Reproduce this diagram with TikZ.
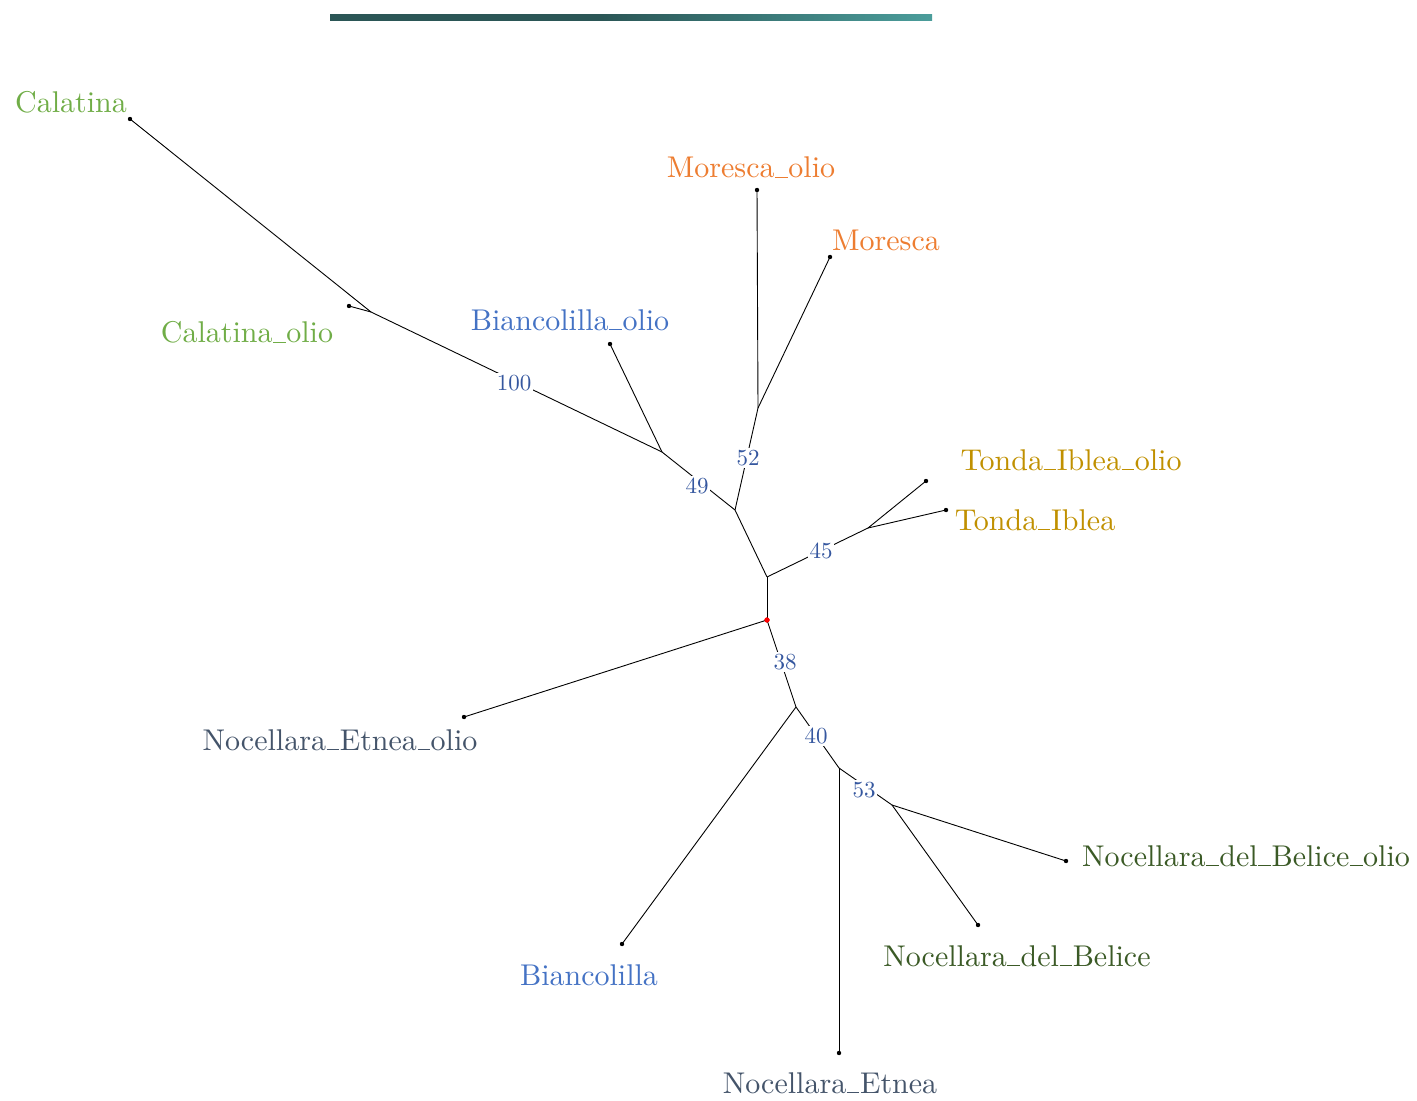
\documentclass[tikz,border=0pt]{standalone}
\usepackage{fontspec}
\setmainfont{lmroman10-regular.otf}
\newcommand\us{\leavevmode\kern.02em\vbox{\hrule height.5pt width.42em}\kern.02em}
\definecolor{cgreen}{HTML}{70AD47}
\definecolor{corange}{HTML}{ED7D31}
\definecolor{cblue}{HTML}{4472C4}
\definecolor{cgold}{HTML}{C09000}
\definecolor{cslate}{HTML}{44546A}
\definecolor{cdkgreen}{HTML}{3B5A26}
\definecolor{cboot}{HTML}{35579F}
\definecolor{bardark}{HTML}{2B5656}
\definecolor{barlight}{HTML}{4B9D9B}
\pgfdeclarehorizontalshading{barshade}{100bp}{color(0bp)=(bardark); color(25bp)=(bardark); color(47.5bp)=(bardark); color(75bp)=(barlight); color(100bp)=(barlight)}
\tikzset{
  leafdot/.style={circle,fill=black,inner sep=0pt,minimum size=2.2pt},
  inode/.style={inner sep=0pt,minimum size=0pt},
  rootdot/.style={circle,fill=red,inner sep=0pt,minimum size=2.6pt},
  edge/.style={draw=black,line width=0.45pt},
  leaflab/.style={anchor=base,inner sep=0pt,font=\fontsize{15}{18}\selectfont},
  boot/.style={fill=white,inner sep=0.8pt,text=cboot,font=\fontsize{11.5}{13}\selectfont},
}
\begin{document}
\begin{tikzpicture}[x=0.5pt,y=-0.5pt]
\useasboundingbox (0,0) rectangle (1417,1101);
% top bar
\shade[shading=barshade] (330,15) rectangle (932,21);

% internal nodes
\node[rootdot] (R) at (767,620) {};
\node[inode] (A) at (767,577) {};
\node[inode] (B) at (735,510) {};
\node[inode] (C) at (662,452) {};
\node[inode] (E) at (371,312) {};
\node[inode] (D) at (758,408) {};
\node[inode] (T) at (868,528) {};
\node[inode] (F) at (796,707) {};
\node[inode] (G) at (839,768) {};
\node[inode] (H) at (892,805) {};

% leaves
\node[leafdot] (l1) at (130,119) {};
\node[leafdot] (l2) at (349,306) {};
\node[leafdot] (l3) at (610,344) {};
\node[leafdot] (l4) at (757,190) {};
\node[leafdot] (l5) at (830,257) {};
\node[leafdot] (l6) at (926,481) {};
\node[leafdot] (l7) at (946,510) {};
\node[leafdot] (l8) at (464,717) {};
\node[leafdot] (l9) at (622,944) {};
\node[leafdot] (l10) at (839,1053) {};
\node[leafdot] (l11) at (978,925) {};
\node[leafdot] (l12) at (1066,861) {};

% edges
\draw[edge] (R.center) -- (A.center);
\draw[edge] (A.center) -- (B.center);
\draw[edge] (A.center) -- (T.center);
\draw[edge] (B.center) -- (C.center);
\draw[edge] (B.center) -- (D.center);
\draw[edge] (C.center) -- (E.center);
\draw[edge] (C.center) -- (l3.center);
\draw[edge] (E.center) -- (l1.center);
\draw[edge] (E.center) -- (l2.center);
\draw[edge] (D.center) -- (l4.center);
\draw[edge] (D.center) -- (l5.center);
\draw[edge] (T.center) -- (l6.center);
\draw[edge] (T.center) -- (l7.center);
\draw[edge] (R.center) -- (l8.center);
\draw[edge] (R.center) -- (F.center);
\draw[edge] (F.center) -- (l9.center);
\draw[edge] (F.center) -- (G.center);
\draw[edge] (G.center) -- (l10.center);
\draw[edge] (G.center) -- (H.center);
\draw[edge] (H.center) -- (l11.center);
\draw[edge] (H.center) -- (l12.center);
\node[rootdot] at (R) {};

% bootstrap labels
\node[boot] (b100) at (514,383) {100};
\node[boot] (b49) at (697,486) {49};
\node[boot] (b52) at (748,458) {52};
\node[boot] (b45) at (821,551) {45};
\node[boot] (b38) at (785,662) {38};
\node[boot] (b40) at (816,736) {40};
\node[boot] (b53) at (864,790) {53};

% leaf labels
\node[leaflab,text=cgreen] (t1) at (71,113) {Calatina};
\node[leaflab,text=cgreen] (t2) at (247,343) {Calatina\us olio};
\node[leaflab,text=cblue] (t3) at (570,330) {Biancolilla\us olio};
\node[leaflab,text=corange] (t4) at (751,178) {Moresca\us olio};
\node[leaflab,text=corange] (t5) at (886,251) {Moresca};
\node[leaflab,text=cgold] (t6) at (1071,470) {Tonda\us Iblea\us olio};
\node[leaflab,text=cgold] (t7) at (1035,530) {Tonda\us Iblea};
\node[leaflab,text=cslate] (t8) at (340,750) {Nocellara\us Etnea\us olio};
\node[leaflab,text=cblue] (t9) at (589,985) {Biancolilla};
\node[leaflab,text=cslate] (t10) at (830,1093) {Nocellara\us Etnea};
\node[leaflab,text=cdkgreen] (t11) at (1017,966) {Nocellara\us del\us Belice};
\node[leaflab,text=cdkgreen] (t12) at (1246,866) {Nocellara\us del\us Belice\us olio};
\end{tikzpicture}
\end{document}
